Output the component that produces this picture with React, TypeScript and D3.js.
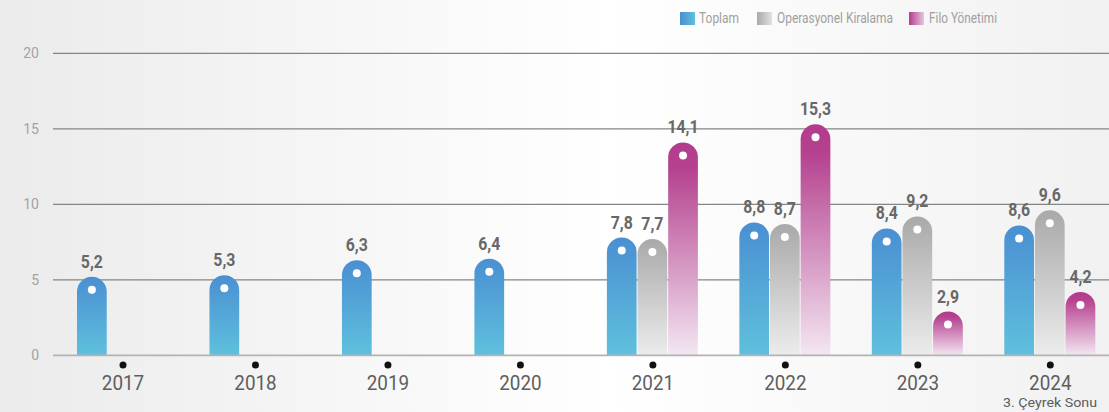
import React from "react";
import * as d3 from "d3";

const years = ["2017", "2018", "2019", "2020", "2021", "2022", "2023", "2024"];
const toplam = [5.2, 5.3, 6.3, 6.4, 7.8, 8.8, 8.4, 8.6];
const operasyonel: (number | null)[] = [null, null, null, null, 7.7, 8.7, 9.2, 9.6];
const filo: (number | null)[] = [null, null, null, null, 14.1, 15.3, 2.9, 4.2];
const seriesNames = ["Toplam", "Operasyonel Kiralama", "Filo Yönetimi"];
const yTicks = [0, 5, 10, 15, 20];

const W = 1109;
const H = 412;

export default function App() {
  const y = d3.scaleLinear().domain([0, 20]).range([355.3, 53.3]);
  const x = d3.scalePoint<string>().domain(years).range([123, 1050.3]);
  const sub = d3.scaleBand<string>().domain(["t", "o", "f"]).range([-46, 45]).paddingInner(0.03);
  const bw = sub.bandwidth();
  const r = bw / 2;
  const fmt = (v: number) => d3.format(".1f")(v).replace(".", ",");

  const series = [
    { key: "t", vals: toplam as (number | null)[], grad: "gBlue" },
    { key: "o", vals: operasyonel, grad: "gGray" },
    { key: "f", vals: filo, grad: "gMag" },
  ];

  const barPath = (x0: number, top: number, bottom: number) => {
    const x1 = x0 + bw;
    return `M${x0},${bottom}V${top + r}A${r},${r} 0 0 1 ${x1},${top + r}V${bottom}Z`;
  };

  const legend = [
    { sx: 680, tx: 699, tw: 40, grad: "lBlue", name: seriesNames[0] },
    { sx: 757, tx: 777, tw: 116, grad: "lGray", name: seriesNames[1] },
    { sx: 909, tx: 929, tw: 68, grad: "lMag", name: seriesNames[2] },
  ];

  return (
    <svg
      width={W}
      height={H}
      style={{ position: "absolute", left: 0, top: 0, display: "block" }}
      fontFamily="Roboto, 'Noto Sans', sans-serif"
    >
      <defs>
        <linearGradient id="bg" x1="0" y1="0" x2="1" y2="0">
          <stop offset="0" stopColor="#ebebeb" />
          <stop offset="0.55" stopColor="#ffffff" />
          <stop offset="1" stopColor="#f1f1f1" />
        </linearGradient>
        <linearGradient id="gBlue" x1="0" y1="0" x2="0" y2="1">
          <stop offset="0" stopColor="#4a8fd2" />
          <stop offset="1" stopColor="#5fc0dd" />
        </linearGradient>
        <linearGradient id="gGray" x1="0" y1="0" x2="0" y2="1">
          <stop offset="0" stopColor="#a9a9aa" />
          <stop offset="1" stopColor="#ececec" />
        </linearGradient>
        <linearGradient id="gMag" x1="0" y1="0" x2="0" y2="1">
          <stop offset="0" stopColor="#b23c8c" />
          <stop offset="0.12" stopColor="#b5418f" />
          <stop offset="1" stopColor="#f3e7f2" />
        </linearGradient>
        <linearGradient id="lBlue" x1="0" y1="0" x2="1" y2="0">
          <stop offset="0" stopColor="#4a8fd2" />
          <stop offset="1" stopColor="#5fc0dd" />
        </linearGradient>
        <linearGradient id="lGray" x1="0" y1="0" x2="1" y2="0">
          <stop offset="0" stopColor="#a9a9aa" />
          <stop offset="1" stopColor="#e2e2e2" />
        </linearGradient>
        <linearGradient id="lMag" x1="0" y1="0" x2="1" y2="0">
          <stop offset="0" stopColor="#b23c8c" />
          <stop offset="1" stopColor="#e6c6df" />
        </linearGradient>
      </defs>
      <rect x={0} y={0} width={W} height={H} fill="url(#bg)" />

      {/* legend */}
      {legend.map((l) => (
        <g key={l.name}>
          <rect x={l.sx} y={12} width={15} height={13} fill={`url(#${l.grad})`} />
          <text
            x={l.tx}
            y={23}
            fontSize={14}
            fill="#a0a0a0"
            textLength={l.tw}
            lengthAdjust="spacingAndGlyphs"
          >
            {l.name}
          </text>
        </g>
      ))}

      {/* grid + y ticks */}
      {yTicks.map((t) => (
        <g key={t}>
          {t > 0 && (
            <line x1={53} x2={W} y1={y(t)} y2={y(t)} stroke="#858585" strokeWidth={1.3} />
          )}
          <text x={39} y={y(t) + 5} fontSize={14} fill="#a3a3a3" textAnchor="end">
            {t}
          </text>
        </g>
      ))}

      {/* bars */}
      {series.map((s) =>
        s.vals.map((v, i) => {
          if (v == null) return null;
          const x0 = (x(years[i]) as number) + (sub(s.key) as number);
          const top = y(v);
          const cx = x0 + bw / 2;
          return (
            <g key={s.key + i}>
              <path d={barPath(x0, top, y(0))} fill={`url(#${s.grad})`} />
              <circle cx={cx} cy={top + 13} r={4} fill="#ffffff" />
              <g transform={`translate(${cx},${top - 9}) scale(0.88,1)`}>
                <text textAnchor="middle" fontSize={18} fontWeight={700} fill="#686868">
                  {fmt(v)}
                </text>
              </g>
            </g>
          );
        })
      )}

      {/* baseline */}
      <line x1={53} x2={W} y1={y(0)} y2={y(0)} stroke="#b3b3b3" strokeWidth={1.8} />

      {/* x axis */}
      {years.map((yr) => {
        const cx = x(yr) as number;
        return (
          <g key={yr}>
            <circle cx={cx} cy={365} r={3.5} fill="#111" />
            <g transform={`translate(${cx},390) scale(0.92,1)`}>
              <text textAnchor="middle" fontSize={20.5} fontWeight={400} fill="#5e5e5e">
                {yr}
              </text>
            </g>
          </g>
        );
      })}
      <text
        x={1003}
        y={407}
        fontSize={13.5}
        fontWeight={400}
        fill="#5c5c5c"
        textLength={94}
        lengthAdjust="spacingAndGlyphs"
      >
        3. Çeyrek Sonu
      </text>
    </svg>
  );
}
